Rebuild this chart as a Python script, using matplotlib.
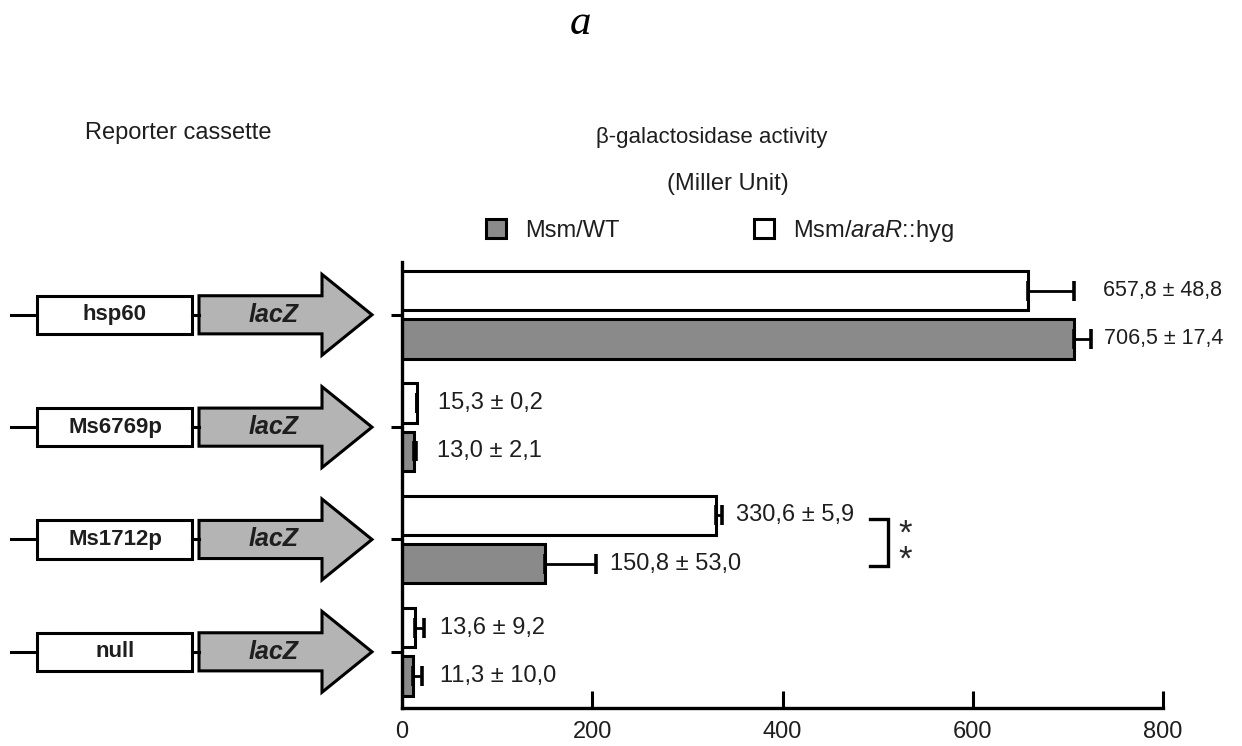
import matplotlib.pyplot as plt
from matplotlib.patches import Rectangle, Polygon

plt.rcParams["font.family"] = ["Liberation Sans", "DejaVu Sans"]
plt.rcParams["mathtext.fontset"] = "custom"
plt.rcParams["mathtext.rm"] = "Liberation Sans"
plt.rcParams["mathtext.it"] = "Liberation Sans:italic"

# ---- data -------------------------------------------------------------
promoters = ["hsp60", "Ms6769p", "Ms1712p", "null"]
wt_mean = [706.5, 13.0, 150.8, 11.3]
wt_err = [17.4, 2.1, 53.0, 10.0]
mut_mean = [657.8, 15.3, 330.6, 13.6]
mut_err = [48.8, 0.2, 5.9, 9.2]
x_ticks = [0, 200, 400, 600, 800]

# label gap after the error cap, in pixels (layout only)
mut_gap = [29, 21, 14, 16]
wt_gap = [13, 21, 14, 18]
label_size = [15.5, 17, 17, 17]

W, H = 1242, 746
BAR_GRAY = "#8a8a8a"
ARROW_GRAY = "#b4b4b4"
TXT = "#1e1e1e"


def fmt(m, e):
    return f"{m:.1f} ± {e:.1f}".replace(".", ",")


fig = plt.figure(figsize=(W / 100, H / 100), dpi=100)
ax = fig.add_axes([402 / W, 38 / H, 761 / W, 446 / H])

ypos = [3 - i for i in range(len(promoters))]
off, bh = 0.215, 0.35
ekw = dict(ecolor="black", elinewidth=2.0, capsize=7, capthick=2.6)

ax.barh([y + off for y in ypos], mut_mean, height=bh, color="white",
        edgecolor="black", lw=2.2, xerr=[[0] * 4, mut_err], error_kw=ekw,
        label=r"Msm/$\it{araR}$::hyg")
ax.barh([y - off for y in ypos], wt_mean, height=bh, color=BAR_GRAY,
        edgecolor="black", lw=2.2, xerr=[[0] * 4, wt_err], error_kw=ekw,
        label="Msm/WT")

for i, y in enumerate(ypos):
    ax.annotate(fmt(mut_mean[i], mut_err[i]), (mut_mean[i] + mut_err[i], y + off),
                xytext=(mut_gap[i] * 0.72, 0), textcoords="offset points",
                va="center", ha="left", fontsize=label_size[i], color=TXT)
    ax.annotate(fmt(wt_mean[i], wt_err[i]), (wt_mean[i] + wt_err[i], y - off),
                xytext=(wt_gap[i] * 0.72, 0), textcoords="offset points",
                va="center", ha="left", fontsize=label_size[i], color=TXT)

# significance bracket for Ms1712p
yb = ypos[2]
ax.plot([492, 511, 511, 492], [yb + 0.18, yb + 0.18, yb - 0.24, yb - 0.24],
        color="black", lw=2.4, clip_on=False, solid_joinstyle="miter")
ax.text(529, yb - 0.07, "*\n*", fontsize=25, ha="center", va="center",
        linespacing=0.72, color="#2a2a2a")

ax.set_xlim(0, 800)
ax.set_ylim(-0.5, 3.47)
ax.set_xticks(x_ticks)
ax.set_yticks(ypos)
ax.set_yticklabels([])
ax.tick_params(axis="x", direction="in", length=12, width=2.2, labelsize=17,
               pad=9, labelcolor=TXT)
ax.tick_params(axis="y", direction="out", length=8, width=2.2)
for s in ["top", "right"]:
    ax.spines[s].set_visible(False)
for s in ["left", "bottom"]:
    ax.spines[s].set_linewidth(2.4)

handles, labels = ax.get_legend_handles_labels()
leg = fig.legend(handles[::-1], labels[::-1], loc="center left", ncol=2,
                 bbox_to_anchor=(486 / W, 1 - 231 / H), frameon=False,
                 fontsize=17, handlelength=0.85, handleheight=0.85,
                 columnspacing=5.7, handletextpad=0.8, borderpad=0,
                 borderaxespad=0)
for t in leg.get_texts():
    t.set_color(TXT)

# ---- reporter cassette diagrams ----------------------------------------
dax = fig.add_axes([0, 38 / H, 402 / W, 446 / H], sharey=ax)
dax.set_xlim(0, 402)
dax.axis("off")
bh2 = 19 / 112
for name, y in zip(promoters, ypos):
    dax.plot([11, 37], [y, y], color="black", lw=2.2)
    dax.plot([192, 199], [y, y], color="black", lw=2.2)
    dax.add_patch(Rectangle((37, y - bh2), 155, 2 * bh2, facecolor="white",
                            edgecolor="black", lw=2.2))
    dax.add_patch(Polygon([(199, y - bh2), (322, y - bh2), (322, y - 0.36),
                           (372, y), (322, y + 0.36), (322, y + bh2),
                           (199, y + bh2)], closed=True,
                          facecolor=ARROW_GRAY, edgecolor="black", lw=2.2))
    dax.text(115, y, name, ha="center", va="center", fontsize=16,
             fontweight="bold", color=TXT)
    dax.text(274, y, "lacZ", ha="center", va="center", fontsize=18,
             fontweight="bold", style="italic", color=TXT)

# ---- titles --------------------------------------------------------------
fig.text(580 / W, 1 - 24 / H, "a", family="Liberation Serif", style="italic",
         fontsize=31, ha="center", va="center")
fig.text(178 / W, 1 - 133 / H, "Reporter cassette", fontsize=17,
         ha="center", va="center", color=TXT)
fig.text(712 / W, 1 - 137 / H, "β-galactosidase activity", fontsize=16,
         ha="center", va="center", color=TXT)
fig.text(728 / W, 1 - 184 / H, "(Miller Unit)", fontsize=17,
         ha="center", va="center", color=TXT)

fig.savefig("out.png", dpi=100)
